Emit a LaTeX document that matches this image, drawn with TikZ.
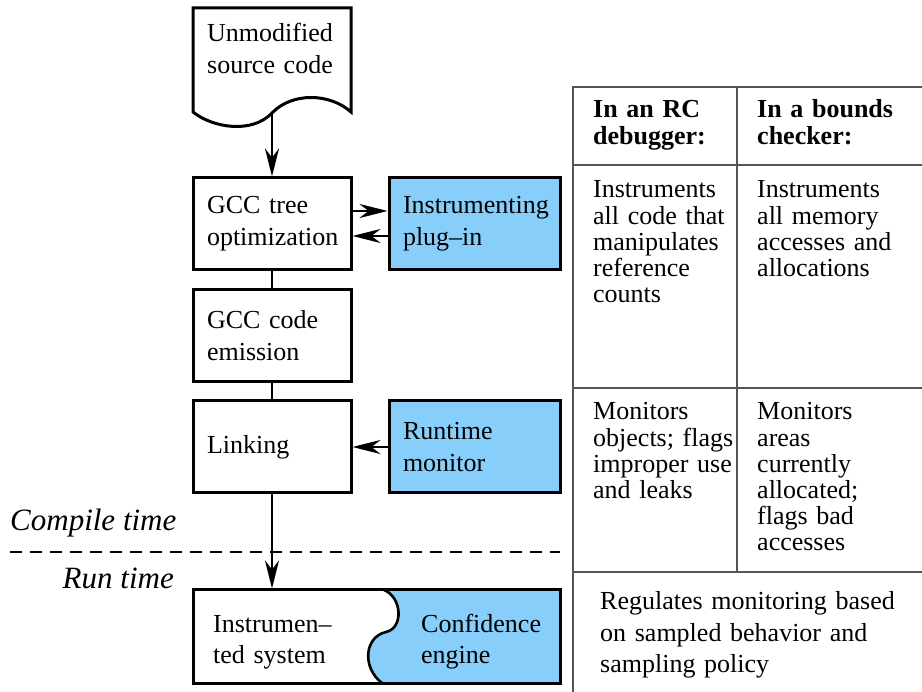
\documentclass[tikz,border=0pt]{standalone}
\usepackage{fontspec}
\setmainfont{Liberation Serif}
\usetikzlibrary{arrows.meta}
\definecolor{skyb}{RGB}{135,206,250}
\definecolor{tgray}{RGB}{85,85,85}
\begin{document}
\begin{tikzpicture}[x=1pt,y=-1pt,
  box/.style={draw,line width=3pt,inner xsep=14pt,inner ysep=0pt,align=left,
    font=\fontsize{26}{32}\selectfont,minimum height=92pt,anchor=center},
  plainbox/.style={box,fill=white,text width=130pt,minimum width=158pt},
  bluebox/.style={box,fill=skyb,text width=143pt,minimum width=171pt},
  conn/.style={line width=2.4pt},
  arr/.style={conn,-{Stealth[length=28pt,width=14pt,inset=9pt]}},
  tline/.style={draw=tgray,line width=1.3pt},
  ttext/.style={anchor=base west,inner sep=0pt,align=left,text width=160pt,
    font=\fontsize{26}{26.2}\selectfont},
  lbl/.style={font=\fontsize{31}{34}\selectfont\itshape,inner sep=0pt}]
\useasboundingbox (0,0) rectangle (922,692);

% source document
\draw[line width=3pt,line join=miter,fill=white] (193,8) -- (351,8) -- (351,112)
  .. controls (330,93) and (292,92) .. (272,113)
  .. controls (252,134) and (213,128) .. (193,112) -- cycle;
\node[anchor=base west,inner sep=0pt,align=left,text width=140pt,
  font=\fontsize{26}{32}\selectfont] (src) at (207,42) {Unmodified\\source code};
\coordinate (srcb) at (272,113);

% flow boxes
\node[plainbox] (gcc) at (272,224) {GCC tree\\optimization};
\node[bluebox] (plug) at (474.5,224) {Instrumenting\\plug–in};
\node[plainbox] (emit) at (272,336) {GCC code\\emission};
\node[plainbox] (link) at (272,447) {Linking};
\node[bluebox] (rtm) at (474.5,447) {Runtime\\monitor};

% system box
\fill[skyb] (384,590) .. controls (402,597) and (404,628) .. (386,632)
  .. controls (364,637) and (362,668) .. (382,683) -- (560,683) -- (560,590) -- cycle;
\draw[line width=2.6pt] (384,590) .. controls (402,597) and (404,628) .. (386,632)
  .. controls (364,637) and (362,668) .. (382,683);
\node[draw,line width=3pt,minimum width=367pt,minimum height=93pt,inner sep=0pt]
  (sys) at (376.5,636.5) {};
\node[anchor=base west,inner sep=0pt,align=left,text width=150pt,
  font=\fontsize{26}{32}\selectfont] (sysl) at (213,632) {Instrumen–\\ted system};
\node[anchor=base west,inner sep=0pt,align=left,text width=130pt,
  font=\fontsize{26}{32}\selectfont] (sysr) at (421,632) {Confidence\\engine};

% connectors
\draw[arr] (srcb) -- (gcc.north);
\draw[arr] ([yshift=13pt]gcc.east) -- ([yshift=13pt]plug.west);
\draw[arr] ([yshift=-12pt]plug.west) -- ([yshift=-12pt]gcc.east);
\draw[conn] (gcc.south) -- (emit.north);
\draw[conn] (emit.south) -- (link.north);
\draw[arr] (rtm.west) -- (link.east);
\draw[arr] (link.south) -- (link.south |- sys.north);

% compile / run time
\coordinate (dl) at (10,552);
\coordinate (dr) at (560,552);
\draw[line width=2.2pt,dash pattern=on 12pt off 8pt] (dl) -- (dr);
\node[lbl,anchor=base west] (ct) at (10,531) {Compile time};
\node[lbl,anchor=base east] (rt) at (174,589) {Run time};

% table
\coordinate (t1) at (573,87);
\coordinate (t2) at (573,692);
\coordinate (t3) at (922,87);
\coordinate (t4) at (737,87);
\coordinate (t5) at (737,572);
\coordinate (h1a) at (573,165);  \coordinate (h1b) at (922,165);
\coordinate (h2a) at (573,388);  \coordinate (h2b) at (922,388);
\coordinate (h3a) at (573,572);  \coordinate (h3b) at (922,572);
\draw[tline] (t2) -- (t1) -- (t3);
\draw[tline] (t4) -- (t5);
\draw[tline] (h1a) -- (h1b);
\draw[tline] (h2a) -- (h2b);
\draw[tline] (h3a) -- (h3b);

\node[ttext,font=\fontsize{26}{27}\selectfont\bfseries] (hl) at (593,118) {In an RC\\debugger:};
\node[ttext,font=\fontsize{26}{27}\selectfont\bfseries] (hr) at (757,118) {In a bounds\\checker:};
\node[ttext] (r1l) at (593,198) {Instruments\\all code that\\manipulates\\reference\\counts};
\node[ttext] (r1r) at (757,198) {Instruments\\all memory\\accesses and\\allocations};
\node[ttext] (r2l) at (593,420) {Monitors\\objects; flags\\improper use\\and leaks};
\node[ttext] (r2r) at (757,420) {Monitors\\areas\\currently\\allocated;\\flags bad\\accesses};
\node[ttext,text width=320pt,font=\fontsize{26}{31.5}\selectfont] (r3) at (600,610)
  {Regulates monitoring based\\on sampled behavior and\\sampling policy};
\end{tikzpicture}
\end{document}
